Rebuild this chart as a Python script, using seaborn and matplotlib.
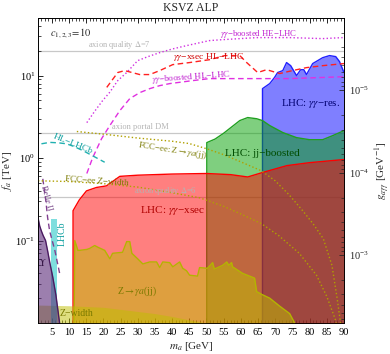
import matplotlib
matplotlib.use("Agg")
import matplotlib.pyplot as plt
import matplotlib.ticker as mticker
import seaborn as sns

# Conversion f_a [TeV] -> g_agg [GeV^-1] for the right axis.
K_G = 6.65e-5

# LHC: gamma gamma cross section (filled, red).
red_m = [11.2, 13.0, 15.1, 18.0, 20.9, 24.8, 30.0, 40.0, 50.0, 57.0, 62.0, 66.4, 73.4, 80.0, 90.0]
red_f = [0.23, 0.31, 0.40, 0.44, 0.46, 0.60, 0.62, 0.64, 0.65, 0.63, 0.59, 0.67, 0.81, 0.88, 0.96]

# LHC: jj boosted (filled, green).
green_m = [50.1, 52.5, 55.0, 59.7, 62.0, 64.6, 66.3, 68.4, 72.2, 76.2, 80.0, 83.8, 86.7, 90.0]
green_f = [1.54, 1.70, 2.00, 2.85, 3.10, 3.00, 2.85, 2.48, 2.04, 1.77, 1.67, 1.67, 1.87, 2.15]

# LHC: gamma gamma resonance (filled, blue).
blue_m = [66.3, 68.4, 69.8, 70.7, 72.2, 73.3, 74.5, 76.2, 77.4, 78.3, 79.1, 80.9, 83.8, 85.8, 87.6, 88.7, 90.0]
blue_f = [6.95, 8.0, 9.5, 10.9, 11.5, 14.4, 13.2, 10.0, 11.8, 11.8, 10.3, 14.0, 16.5, 17.5, 17.0, 14.8, 10.9]

# Z -> gamma a (jj) (filled, olive).
zga_m = [11.5, 11.7, 12.6, 13.1, 15.2, 16.0, 17.5, 18.4, 20.4, 21.9, 22.7, 25.6, 26.8, 27.7, 28.3,
         30.0, 31.5, 33.5, 35.5, 36.4, 37.3, 39.3, 40.2, 42.2, 43.1, 44.2, 45.1, 47.4, 48.0, 50.3,
         51.8, 52.3, 54.7, 55.9, 56.5, 57.3, 57.6, 60.5, 64.0, 64.6, 66.3, 68.4, 71.3, 74.2, 75.6]
zga_f = [0.010, 0.100, 0.076, 0.076, 0.078, 0.080, 0.087, 0.083, 0.076, 0.060, 0.070, 0.072, 0.097,
         0.097, 0.070, 0.060, 0.052, 0.055, 0.055, 0.047, 0.055, 0.054, 0.048, 0.055, 0.046, 0.043,
         0.038, 0.037, 0.047, 0.046, 0.054, 0.045, 0.050, 0.055, 0.050, 0.054, 0.048, 0.040, 0.035,
         0.024, 0.022, 0.020, 0.016, 0.013, 0.0101]

# Z width (filled band at the bottom).
zw_m = [1.0, 10.0, 20.0, 30.0, 35.0, 40.0, 45.0, 50.0, 55.0]
zw_f = [0.0165, 0.0162, 0.0155, 0.0138, 0.0130, 0.0120, 0.0109, 0.0100, 0.0090]

# Upsilon decays (filled, purple).
ups_m = [1.0, 1.5, 2.0, 2.5, 3.2, 3.8, 4.4, 5.3, 6.2, 7.3]
ups_f = [0.19, 0.15, 0.13, 0.115, 0.10, 0.075, 0.055, 0.036, 0.022, 0.0099]

# LHCb band.
lhcb_m = [4.9, 6.4]
lhcb_f = [0.185, 0.185]

# Projections.
he_m = [15.2, 17.5, 19.8, 21.9, 24.2, 26.8, 30.0, 33.0, 36.4, 40.0, 44.2, 50.9, 54.7, 64.6, 74.2, 83.8, 89.6]
he_f = [2.69, 3.7, 4.98, 6.3, 8.7, 10.9, 15.2, 17.0, 19.0, 21.0, 23.1, 26.6, 27.3, 28.9, 28.9, 28.1, 28.9]

xs_m = [21.0, 24.2, 26.2, 28.0, 30.6, 33.5, 36.4, 40.2, 45.1, 50.9, 55.3, 59.7, 61.7, 64.9, 67.5, 71.3,
        75.0, 79.1, 83.8, 90.0]
xs_f = [7.2, 10.9, 11.5, 11.0, 10.3, 10.3, 11.5, 13.6, 14.4, 15.6, 17.5, 17.5, 14.4, 10.9, 11.8, 10.6,
        11.5, 12.5, 13.2, 14.0]

hb_m = [15.2, 16.9, 19.5, 21.9, 24.8, 27.7, 30.6, 33.5, 36.4, 39.3, 46.0, 50.9, 64.6, 74.2, 90.0]
hb_f = [0.65, 1.01, 1.72, 2.48, 3.76, 5.26, 6.22, 6.95, 7.56, 8.0, 8.7, 9.2, 9.2, 9.2, 9.7]

hl_m = [2.0, 4.4, 7.0, 9.3, 11.5, 14.1, 17.0, 20.4]
hl_f = [1.49, 1.55, 1.53, 1.49, 1.38, 1.23, 1.06, 0.89]

belle_m = [2.4, 3.3, 3.8, 4.4, 5.9, 7.3]
belle_f = [0.56, 0.30, 0.19, 0.13, 0.076, 0.04]

fzw_m = [1.0, 10.0, 20.0, 30.0, 40.0, 48.0, 55.0, 60.0, 66.0, 71.0, 77.0, 82.0, 85.0, 87.5, 89.0]
fzw_f = [0.53, 0.52, 0.49, 0.445, 0.38, 0.33, 0.26, 0.21, 0.16, 0.115, 0.07, 0.038, 0.021, 0.011, 0.006]

fzg_m = [12.3, 20.0, 30.0, 40.0, 45.0, 50.0, 55.0, 60.0, 66.0, 70.0, 74.0, 78.0, 81.0, 84.0, 86.5, 88.0, 89.0]
fzg_f = [2.1, 1.95, 1.75, 1.6, 1.5, 1.3, 1.1, 0.9, 0.70, 0.53, 0.36, 0.23, 0.16, 0.105, 0.05, 0.02, 0.01]

# Theory lines (horizontal).
quality7_f = 20.0
portal_f = 2.0
quality6_f = 0.34

x_ticks = [5, 10, 15, 20, 25, 30, 35, 40, 45, 50, 55, 60, 65, 70, 75, 80, 85, 90]
f_ticks = [0.1, 1.0, 10.0]
g_ticks = [1e-5, 1e-4, 1e-3]

F_MIN, F_MAX = 0.01, 50.0
BOTTOM = 1e-3


def edge(ax, m, f, color, lw=1.0, z=3):
    """Outline of a filled region, including its left vertical edge."""
    sns.lineplot(x=[m[0]] + list(m), y=[BOTTOM] + list(f), ax=ax, color=color,
                 lw=lw, sort=False, estimator=None, zorder=z)


def proj(ax, m, f, color, ls, lw=1.0):
    sns.lineplot(x=m, y=f, ax=ax, color=color, lw=lw, ls=ls, sort=False,
                 estimator=None, zorder=8)


sns.set_theme(style="ticks")
plt.rcParams["font.family"] = ["Liberation Serif", "DejaVu Serif"]
plt.rcParams["mathtext.fontset"] = "stix"

fig = plt.figure(figsize=(3.9, 3.54), dpi=100)
ax = fig.add_axes([0.0974, 0.0876, 0.7846, 0.8616])
ax.set_yscale("log")

# Horizontal theory lines.
for fv in [quality7_f, portal_f, quality6_f]:
    ax.axhline(fv, color="#c8c8c8", lw=0.9, zorder=0.5)

# Filled exclusion regions.
ax.fill_between(blue_m, blue_f, BOTTOM, color=(0, 0, 1), alpha=0.5, lw=0, zorder=1)
edge(ax, blue_m, blue_f, "#2020ff", z=1.1)
ax.fill_between(green_m, green_f, BOTTOM, color=(0, 0.63, 0), alpha=0.5, lw=0, zorder=2)
edge(ax, green_m, green_f, "#20a020", z=2.1)
ax.fill_between(red_m, red_f, BOTTOM, color=(1, 0, 0), alpha=0.5, lw=0, zorder=3)
edge(ax, red_m, red_f, "#ff0000", z=3.1)
ax.fill_between(zga_m, zga_f, BOTTOM, color=(0.75, 0.75, 0), alpha=0.5, lw=0, zorder=4)
sns.lineplot(x=zga_m, y=zga_f, ax=ax, color="#b4b400", lw=1.0, sort=False, estimator=None, zorder=4.1)
ax.fill_between(zw_m, zw_f, BOTTOM, color=(0.75, 0.75, 0), alpha=0.5, lw=0, zorder=5)
ax.fill_between(lhcb_m, lhcb_f, BOTTOM, color=(0, 0.75, 0.75), alpha=0.5, lw=0, zorder=6)
ax.fill_between(ups_m, ups_f, BOTTOM, color="#5a2a78", alpha=0.6, lw=0, zorder=7)
sns.lineplot(x=ups_m, y=ups_f, ax=ax, color="#4a1a60", lw=1.0, sort=False, estimator=None, zorder=7.1)

# Projections.
proj(ax, he_m, he_f, "#d030e0", ":")
proj(ax, xs_m, xs_f, "#ff2020", (0, (4, 2.5)))
proj(ax, hb_m, hb_f, "#e030e0", (0, (4, 2.5)))
proj(ax, hl_m, hl_f, "#20b0b0", (0, (4, 2.5)))
proj(ax, belle_m, belle_f, "#804090", (0, (4, 2.5)))
proj(ax, fzw_m, fzw_f, "#b0a000", ":")
proj(ax, fzg_m, fzg_f, "#b0a000", ":")

# Text labels.
gray = "#b4b4b4"
olive = "#7a7a00"
ax.text(0.04, 0.95, r"$c_{1,2,3}\!=\!10$", transform=ax.transAxes, fontsize=7.5, va="center")
ax.text(15.5, 23.5, r"axion quality $\Delta$=7", color=gray, fontsize=6, va="center")
ax.text(22.4, 2.35, "axion portal DM", color=gray, fontsize=6, va="center")
ax.text(38.1, 0.40, r"axion quality $\Delta$=6", color=gray, fontsize=6, ha="center", va="center", zorder=10)
ax.text(53.8, 32.3, r"$\gamma\gamma$−boosted HE−LHC", color="#c020d0", fontsize=6.3, va="center", zorder=10)
ax.text(40.2, 17.0, r"$\gamma\gamma$−xsec HL−LHC", color="#d00000", fontsize=6.8, va="center", zorder=10)
ax.text(45.4, 9.5, r"$\gamma\gamma$−boosted HL−LHC", color="#c020d0", fontsize=6.5,
        ha="center", va="center", rotation=4, zorder=10)
ax.text(11.1, 1.5, "HL−LHCb", color="#10a0a0", fontsize=6.8, ha="center", va="center", rotation=-22, zorder=10)
ax.text(40.2, 1.23, r"FCC−ee: Z$\to\gamma a$(jj)", color=olive, fontsize=6.3,
        ha="center", va="center", rotation=-9, zorder=10)
ax.text(18.1, 0.53, "FCC−ee Z−width", color=olive, fontsize=6.5, ha="center", va="center", rotation=-4, zorder=10)
ax.text(66.3, 1.13, "LHC: jj−boosted", color="#004c00", fontsize=8, ha="center", va="center", zorder=10)
ax.text(80.3, 4.57, r"LHC: $\gamma\gamma$−res.", color="#000070", fontsize=7.8, ha="center", va="center", zorder=10)
ax.text(40.2, 0.23, r"LHC: $\gamma\gamma$−xsec", color="#b00000", fontsize=8, ha="center", va="center", zorder=10)
ax.text(3.5, 0.33, "Belle II", color="#7a4a8a", fontsize=6, ha="center", va="center", rotation=-75, zorder=10)
ax.text(7.9, 0.12, "LHCb", color="#10a0a0", fontsize=7, ha="center", va="center", rotation=90, zorder=10)
ax.text(2.4, 0.054, r"$\Upsilon$", color="#301040", fontsize=7, ha="center", va="center", zorder=10)
ax.text(29.7, 0.024, r"Z$\to\gamma a$(jj)", color=olive, fontsize=7, ha="center", va="center", zorder=10)
ax.text(12.3, 0.013, "Z−width", color=olive, fontsize=7, ha="center", va="center", zorder=10)

# Axes, ticks and labels.
ax.set_xlim(1, 90)
ax.set_ylim(F_MIN, F_MAX)
ax.xaxis.set_major_locator(mticker.FixedLocator(x_ticks))
ax.xaxis.set_minor_locator(mticker.MultipleLocator(1))
ax.yaxis.set_major_locator(mticker.FixedLocator(f_ticks))
ax.yaxis.set_major_formatter(mticker.LogFormatterMathtext())
ax.yaxis.set_minor_locator(mticker.LogLocator(subs=range(2, 10)))
ax.yaxis.set_minor_formatter(mticker.NullFormatter())
ax.tick_params(which="both", direction="in", top=True, right=False, labelsize=7.5, colors="black")
ax.tick_params(which="major", length=3.5, width=0.6)
ax.tick_params(which="minor", length=2, width=0.5)
ax.tick_params(axis="y", pad=2)
ax.set_xlabel(r"$m_a$ [GeV]", fontsize=8, labelpad=2)
ax.set_ylabel(r"$f_a$ [TeV]", fontsize=8)
ax.yaxis.set_label_coords(-0.078, 0.5)

ax2 = ax.twinx()
ax2.set_yscale("log")
ax2.set_ylim(K_G / F_MIN, K_G / F_MAX)
ax2.yaxis.set_major_locator(mticker.FixedLocator(g_ticks))
ax2.yaxis.set_major_formatter(mticker.LogFormatterMathtext())
ax2.yaxis.set_minor_locator(mticker.LogLocator(subs=range(2, 10)))
ax2.yaxis.set_minor_formatter(mticker.NullFormatter())
ax2.tick_params(which="both", direction="in", labelsize=7.5)
ax2.tick_params(which="major", length=3.5, width=0.6)
ax2.tick_params(which="minor", length=2, width=0.5)
ax2.set_ylabel(r"$g_{a\gamma\gamma}$ [GeV$^{-1}$]", fontsize=8, labelpad=3)

for a in (ax, ax2):
    for s in a.spines.values():
        s.set_linewidth(0.6)
        s.set_color("black")

fig.text(0.49, 0.993, "KSVZ ALP", fontsize=8.5, ha="center", va="top")

fig.savefig("out.png", dpi=100)
